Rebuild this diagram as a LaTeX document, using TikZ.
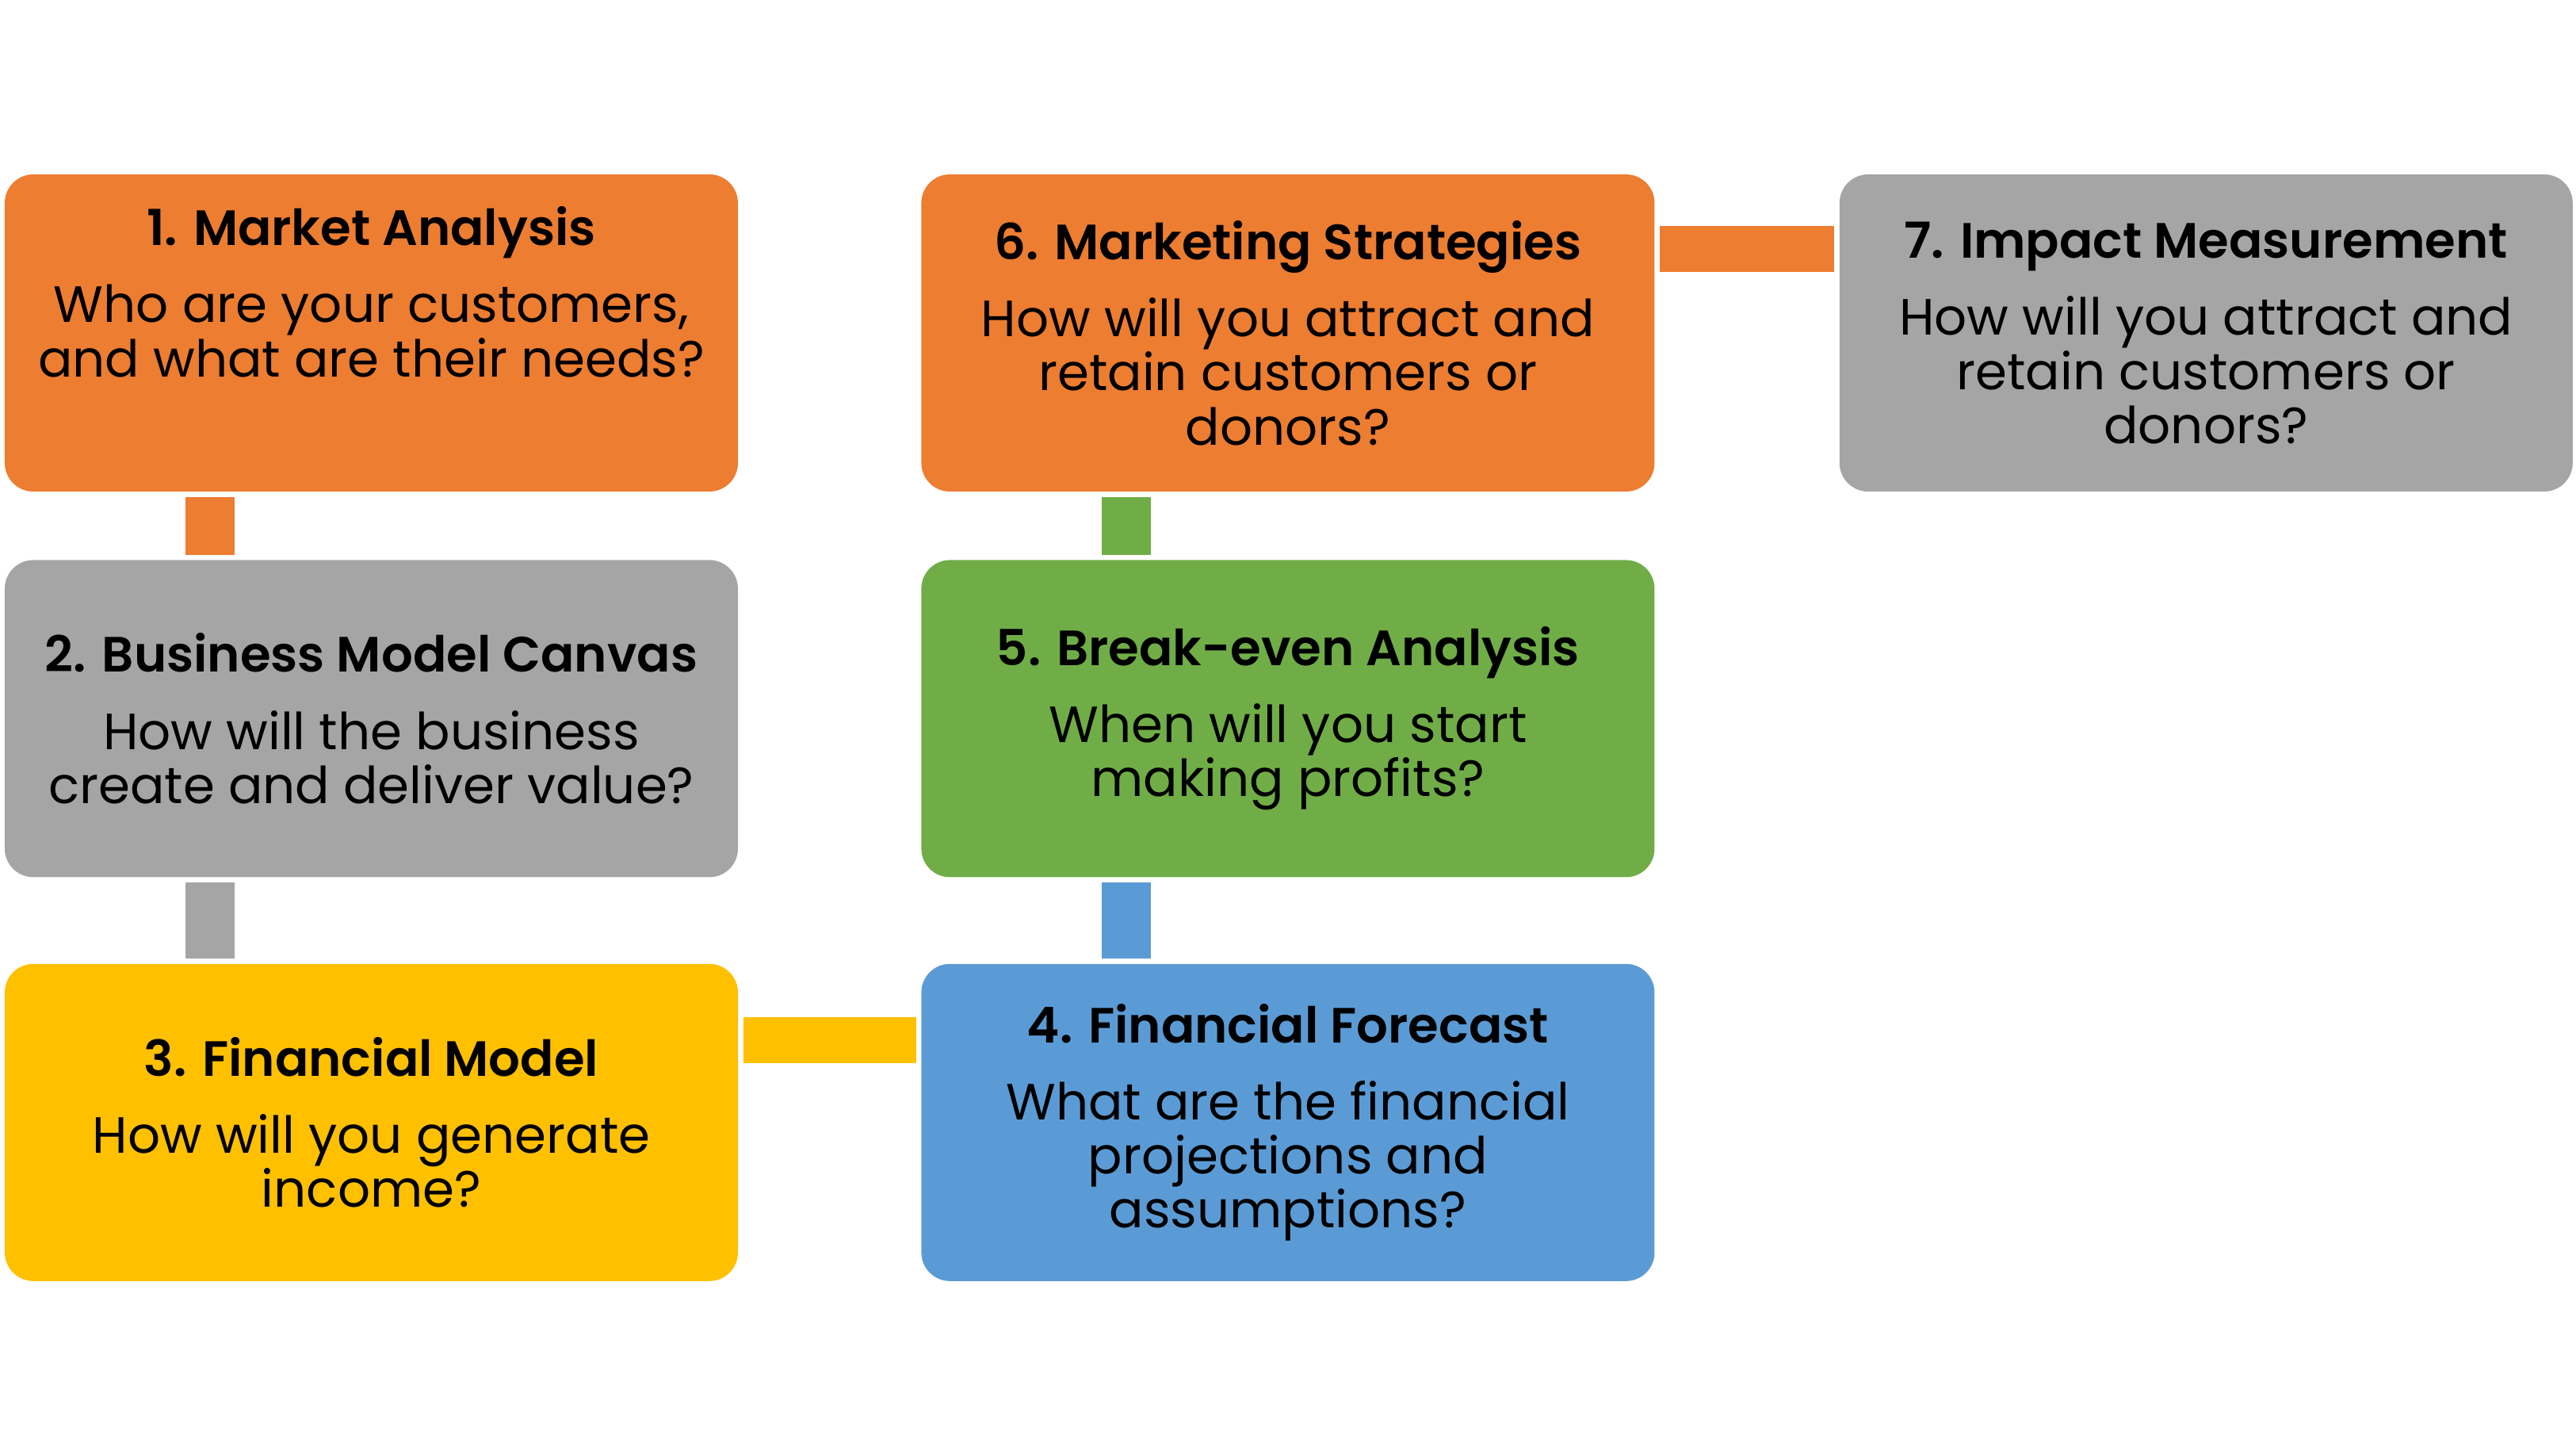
\documentclass[tikz,border=0pt]{standalone}
\usepackage{fontspec}
\setmainfont{Poppins}[BoldFont={Poppins SemiBold}]
\usepackage{tikz}
\usetikzlibrary{positioning}

\definecolor{planorange}{HTML}{ED7D31}
\definecolor{plangray}{HTML}{A5A5A5}
\definecolor{planyellow}{HTML}{FFC000}
\definecolor{planblue}{HTML}{5B9BD5}
\definecolor{plangreen}{HTML}{70AD47}

\tikzset{
  stepbox/.style={rectangle, rounded corners=0.36cm, fill=#1,
    minimum width=9.25cm, minimum height=4cm, inner sep=0pt,
    align=center, text=black, font=\fontsize{18.3}{19.4}\selectfont},
  link/.style={line width=#1, shorten <=0.06cm, shorten >=0.06cm},
}
\newcommand{\steptitle}[1]{{\fontsize{17.8}{19.4}\selectfont\bfseries #1}\\[0.29cm]}

\begin{document}
\begin{tikzpicture}
\useasboundingbox (0,0) rectangle (32.5,18.09);

% the seven steps
\node[stepbox=planorange] (market) at (4.685,13.89)
  {\steptitle{1. Market Analysis}Who are your customers,\\and what are their needs?\\[0.36cm]\mbox{}};
\node[stepbox=plangray, below=0.85cm of market] (canvas)
  {\steptitle{2. Business Model Canvas}How will the business\\create and deliver value?};
\node[stepbox=planyellow, below=1.08cm of canvas] (finmodel)
  {\steptitle{3. Financial Model}How will you generate\\income?};
\node[stepbox=planblue, right=2.3cm of finmodel] (forecast)
  {\steptitle{4. Financial Forecast}What are the financial\\projections and\\assumptions?};
\node[stepbox=plangreen, above=1.08cm of forecast] (breakeven)
  {\steptitle{5. Break-even Analysis}When will you start\\making profits?};
\node[stepbox=planorange, above=0.85cm of breakeven] (marketing)
  {\steptitle{6. Marketing Strategies}How will you attract and\\retain customers or\\donors?};
\node[stepbox=plangray, right=2.32cm of marketing] (impact)
  {\steptitle{7. Impact Measurement}How will you attract and\\retain customers or\\donors?};

% links between the steps
\draw[link=0.62cm, planorange] ([xshift=-2.035cm]market.south) -- ([xshift=-2.035cm]canvas.north);
\draw[link=0.62cm, plangray] ([xshift=-2.035cm]canvas.south) -- ([xshift=-2.035cm]finmodel.north);
\draw[link=0.58cm, planyellow] ([yshift=-0.97cm]finmodel.north east) -- ([yshift=-0.97cm]forecast.north west);
\draw[link=0.62cm, planblue] ([xshift=-2.035cm]forecast.north) -- ([xshift=-2.035cm]breakeven.south);
\draw[link=0.62cm, plangreen] ([xshift=-2.035cm]breakeven.north) -- ([xshift=-2.035cm]marketing.south);
\draw[link=0.58cm, planorange] ([yshift=-0.95cm]marketing.north east) -- ([yshift=-0.95cm]impact.north west);
\end{tikzpicture}
\end{document}
